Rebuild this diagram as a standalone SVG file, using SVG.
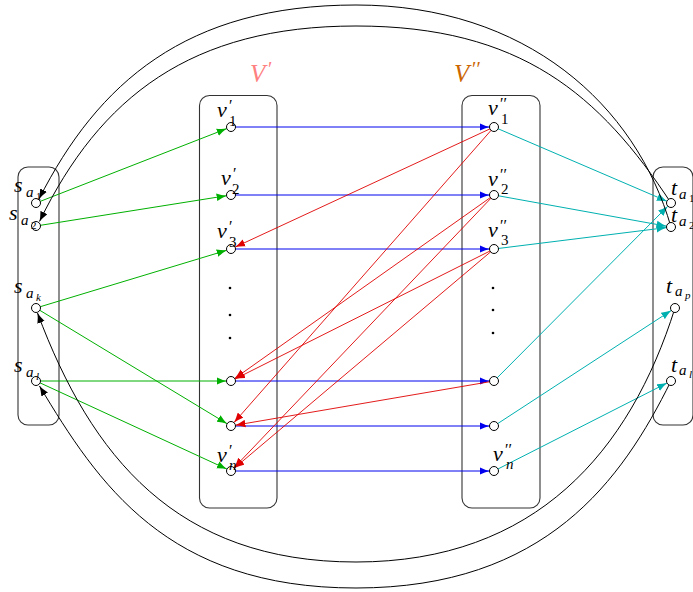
<svg xmlns="http://www.w3.org/2000/svg" width="693" height="592" viewBox="0 0 693 592">
<style>
.panel{fill:none;stroke:#333;stroke-width:1.1}
.node{fill:#fff;stroke:#000;stroke-width:1}
.dot{fill:#000}
.m{font-family:"Liberation Serif","Times New Roman",serif;font-style:italic;font-size:22px;fill:#000}
.s{font-size:15px}
.ss{font-size:11px}
.up{font-style:normal}
.pr{font-style:normal;font-size:16px}
.g{stroke:#00b000;stroke-width:1;fill:none}
.b{stroke:#0000ee;stroke-width:1;fill:none}
.r{stroke:#e00000;stroke-width:0.9;fill:none}
.c{stroke:#00b0b0;stroke-width:1;fill:none}
.k{stroke:#000;stroke-width:1;fill:none}
</style>
<defs>
<marker id="ag" viewBox="-10 -4 10 8" refX="0" refY="0" markerWidth="10" markerHeight="8" markerUnits="userSpaceOnUse" orient="auto"><path d="M0,0 Q-5,-1.3 -10,-3.8 L-10,3.8 Q-5,1.3 0,0 z" fill="#00b000"/></marker>
<marker id="ab" viewBox="-10 -4 10 8" refX="0" refY="0" markerWidth="10" markerHeight="8" markerUnits="userSpaceOnUse" orient="auto"><path d="M0,0 Q-5,-1.3 -10,-3.8 L-10,3.8 Q-5,1.3 0,0 z" fill="#0000ee"/></marker>
<marker id="ar" viewBox="-10 -4 10 8" refX="0" refY="0" markerWidth="10" markerHeight="8" markerUnits="userSpaceOnUse" orient="auto"><path d="M0,0 Q-5,-1.3 -10,-3.8 L-10,3.8 Q-5,1.3 0,0 z" fill="#e00000"/></marker>
<marker id="ac" viewBox="-10 -4 10 8" refX="0" refY="0" markerWidth="10" markerHeight="8" markerUnits="userSpaceOnUse" orient="auto"><path d="M0,0 Q-5,-1.3 -10,-3.8 L-10,3.8 Q-5,1.3 0,0 z" fill="#00b0b0"/></marker>
<marker id="ak" viewBox="-10 -4 10 8" refX="0" refY="0" markerWidth="10" markerHeight="8" markerUnits="userSpaceOnUse" orient="auto"><path d="M0,0 Q-5,-1.3 -10,-3.8 L-10,3.8 Q-5,1.3 0,0 z" fill="#000"/></marker>
</defs>

<g id="panels">
<rect class="panel" x="18" y="167" width="41" height="258" rx="10"/>
<rect class="panel" x="199.5" y="95.5" width="77.5" height="412.5" rx="10"/>
<rect class="panel" x="462" y="95.5" width="78" height="412.5" rx="10"/>
<rect class="panel" x="653" y="167" width="40" height="258" rx="10"/>
</g>

<g id="set-labels">
<text class="m" x="250" y="82" style="font-size:25px;fill:#ff8080">V<tspan class="pr" x="268" y="76" style="font-size:20px">′</tspan></text>
<text class="m" x="454" y="82" style="font-size:25px;fill:#cc6600">V<tspan class="pr" x="472" y="76" style="font-size:20px">′′</tspan></text>
</g>

<g id="connectors">
<line class="g" x1="36" y1="203" x2="226.8" y2="128.6" marker-end="url(#ag)"/>
<line class="g" x1="36" y1="226" x2="226.6" y2="195.7" marker-end="url(#ag)"/>
<line class="g" x1="36" y1="308" x2="226.7" y2="250.3" marker-end="url(#ag)"/>
<line class="g" x1="36" y1="308" x2="227.1" y2="423.7" marker-end="url(#ag)"/>
<line class="g" x1="36" y1="381" x2="226.5" y2="381" marker-end="url(#ag)"/>
<line class="g" x1="36" y1="381" x2="226.9" y2="469.1" marker-end="url(#ag)"/>
<line class="b" x1="231" y1="127" x2="489.5" y2="127" marker-end="url(#ab)"/>
<line class="b" x1="231" y1="195" x2="489.5" y2="195" marker-end="url(#ab)"/>
<line class="b" x1="231" y1="249" x2="489.5" y2="249" marker-end="url(#ab)"/>
<line class="b" x1="231" y1="381" x2="489.5" y2="381" marker-end="url(#ab)"/>
<line class="b" x1="231" y1="426" x2="489.5" y2="426" marker-end="url(#ab)"/>
<line class="b" x1="231" y1="471" x2="489.5" y2="471" marker-end="url(#ab)"/>
<line class="r" x1="494" y1="127" x2="235.1" y2="247.1" marker-end="url(#ar)"/>
<line class="r" x1="494" y1="127" x2="234.0" y2="422.6" marker-end="url(#ar)"/>
<line class="r" x1="494" y1="195" x2="234.7" y2="378.4" marker-end="url(#ar)"/>
<line class="r" x1="494" y1="195" x2="234.1" y2="467.7" marker-end="url(#ar)"/>
<line class="r" x1="494" y1="249" x2="235.0" y2="379.0" marker-end="url(#ar)"/>
<line class="r" x1="494" y1="249" x2="234.4" y2="468.1" marker-end="url(#ar)"/>
<line class="r" x1="494" y1="381" x2="235.4" y2="425.2" marker-end="url(#ar)"/>
<line class="c" x1="494" y1="127" x2="666.9" y2="201.2" marker-end="url(#ac)"/>
<line class="c" x1="494" y1="195" x2="666.6" y2="226.2" marker-end="url(#ac)"/>
<line class="c" x1="494" y1="249" x2="666.5" y2="227.6" marker-end="url(#ac)"/>
<line class="c" x1="494" y1="381" x2="667.8" y2="206.2" marker-end="url(#ac)"/>
<line class="c" x1="494" y1="426" x2="671.2" y2="310.5" marker-end="url(#ac)"/>
<line class="c" x1="494" y1="471" x2="667" y2="383" marker-end="url(#ac)"/>
<path class="k" d="M671,227 C636,105 526,5 356,5 C186,5 98,83 39,199" marker-end="url(#ak)"/>
<path class="k" d="M671,203 C600,95 521,26 356,26 C191,26 100,97 39.5,221.5" marker-end="url(#ak)"/>
<path class="k" d="M671,381 C622,480 546,588 356,588 C166,588 98,483 39.5,386" marker-end="url(#ak)"/>
<path class="k" d="M675,308 C630,451 536,562 356,562 C176,562 91,456 37.5,313" marker-end="url(#ak)"/>
</g>

<g id="s_a1"><circle class="node" cx="36" cy="203" r="4.5"/><text class="m" x="14" y="192">s<tspan class="s" x="26" y="197">a</tspan><tspan class="ss up" x="36" y="200">1</tspan></text></g>
<g id="s_a2"><circle class="node" cx="36" cy="226" r="4.5"/><text class="m" x="9" y="220">s<tspan class="s" x="21" y="225">a</tspan><tspan class="ss up" x="31" y="229">2</tspan></text></g>
<g id="s_ak"><circle class="node" cx="36" cy="308" r="4.5"/><text class="m" x="14" y="293">s<tspan class="s" x="26" y="298">a</tspan><tspan class="ss" x="36" y="301">k</tspan></text></g>
<g id="s_al"><circle class="node" cx="36" cy="381" r="4.5"/><text class="m" x="14" y="372">s<tspan class="s" x="26" y="377">a</tspan><tspan class="ss" x="36" y="380">l</tspan></text></g>

<g id="v1p"><circle class="node" cx="231" cy="127" r="4.5"/><text class="m" x="217" y="117">v<tspan class="pr" x="229" y="111">′</tspan><tspan class="s up" x="229" y="126">1</tspan></text></g>
<g id="v2p"><circle class="node" cx="231" cy="195" r="4.5"/><text class="m" x="221" y="185">v<tspan class="pr" x="233" y="179">′</tspan><tspan class="s up" x="232" y="194">2</tspan></text></g>
<g id="v3p"><circle class="node" cx="231" cy="249" r="4.5"/><text class="m" x="217" y="238">v<tspan class="pr" x="229" y="232">′</tspan><tspan class="s up" x="229" y="247">3</tspan></text></g>
<g id="vdots-p"><circle class="dot" cx="230" cy="288" r="1.3"/><circle class="dot" cx="230" cy="315" r="1.3"/><circle class="dot" cx="230" cy="338" r="1.3"/></g>
<g id="v4p"><circle class="node" cx="231" cy="381" r="4.5"/></g>
<g id="v5p"><circle class="node" cx="231" cy="426" r="4.5"/></g>
<g id="vnp"><circle class="node" cx="231" cy="471" r="4.5"/><text class="m" x="217" y="462">v<tspan class="pr" x="229" y="456">′</tspan><tspan class="s" x="229" y="470">n</tspan></text></g>

<g id="v1pp"><circle class="node" cx="494" cy="127" r="4.5"/><text class="m" x="488" y="115">v<tspan class="pr" x="500" y="109">′′</tspan><tspan class="s up" x="501" y="124">1</tspan></text></g>
<g id="v2pp"><circle class="node" cx="494" cy="195" r="4.5"/><text class="m" x="488" y="186">v<tspan class="pr" x="500" y="180">′′</tspan><tspan class="s up" x="501" y="194">2</tspan></text></g>
<g id="v3pp"><circle class="node" cx="494" cy="249" r="4.5"/><text class="m" x="488" y="237">v<tspan class="pr" x="500" y="231">′′</tspan><tspan class="s up" x="501" y="245">3</tspan></text></g>
<g id="vdots-pp"><circle class="dot" cx="493" cy="288" r="1.3"/><circle class="dot" cx="493" cy="310" r="1.3"/><circle class="dot" cx="493" cy="333" r="1.3"/></g>
<g id="v4pp"><circle class="node" cx="494" cy="381" r="4.5"/></g>
<g id="v5pp"><circle class="node" cx="494" cy="426" r="4.5"/></g>
<g id="vnpp"><circle class="node" cx="494" cy="471" r="4.5"/><text class="m" x="493" y="461">v<tspan class="pr" x="505" y="455">′′</tspan><tspan class="s" x="506" y="469">n</tspan></text></g>

<g id="t_a1"><circle class="node" cx="671" cy="203" r="4.5"/><text class="m" x="671" y="195">t<tspan class="s" x="679" y="199">a</tspan><tspan class="ss up" x="689" y="202">1</tspan></text></g>
<g id="t_a2"><circle class="node" cx="671" cy="227" r="4.5"/><text class="m" x="671" y="222">t<tspan class="s" x="679" y="226">a</tspan><tspan class="ss up" x="689" y="229">2</tspan></text></g>
<g id="t_ap"><circle class="node" cx="675" cy="308" r="4.5"/><text class="m" x="666" y="293">t<tspan class="s" x="675" y="296">a</tspan><tspan class="ss" x="685" y="299">p</tspan></text></g>
<g id="t_al"><circle class="node" cx="671" cy="381" r="4.5"/><text class="m" x="671" y="372">t<tspan class="s" x="679" y="375">a</tspan><tspan class="ss" x="689" y="378">l</tspan></text></g>
</svg>
